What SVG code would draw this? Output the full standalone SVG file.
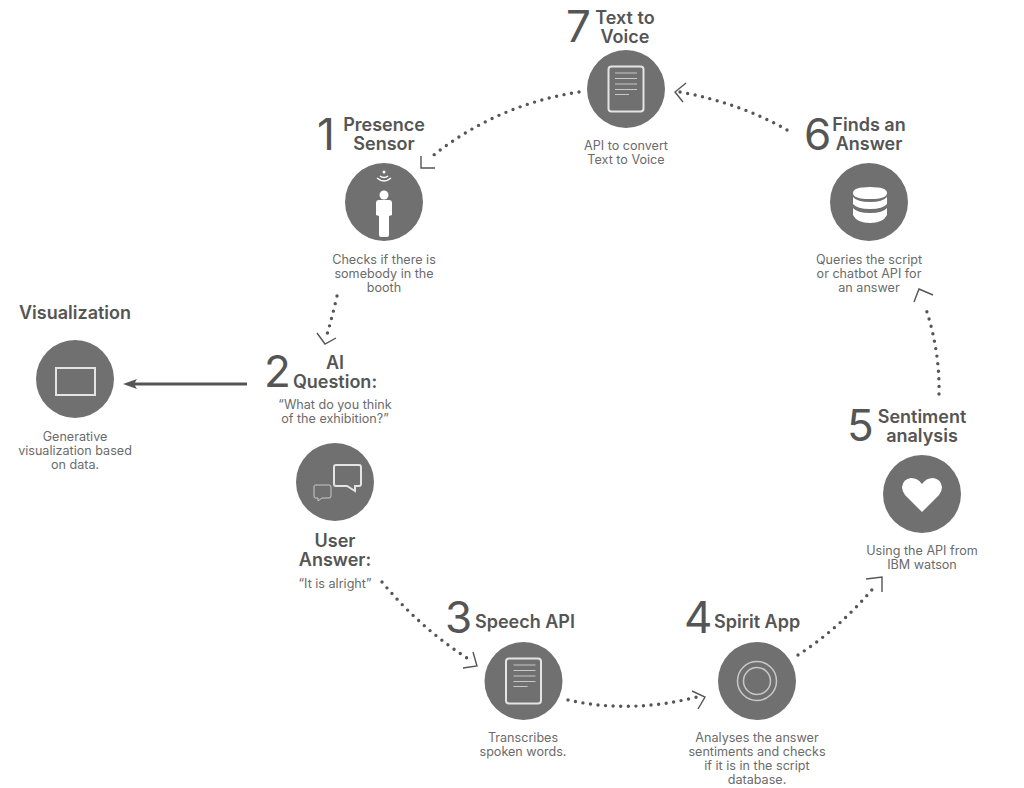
<svg xmlns="http://www.w3.org/2000/svg" width="1024" height="788" viewBox="0 0 1024 788">
<style>
text{font-family:"Inter","Noto Sans","Liberation Sans",sans-serif;text-anchor:middle}
.t{font-size:18px;font-weight:600;fill:#555}
.b{font-size:12.6px;fill:#6b6b6b}
.n{font-size:44px;font-weight:400;fill:#555;text-anchor:start}
.c{fill:#707070}
.i{fill:none;stroke:#e4e4e4;stroke-width:2}
.l{fill:none;stroke:#c8c8c8;stroke-width:1}
.d{fill:none;stroke:#555;stroke-width:3.4;stroke-linecap:round;stroke-dasharray:0 7.6}
.a{fill:none;stroke:#555;stroke-width:1.4}
</style>
<rect width="1024" height="788" fill="#fff"/>
<g id="connectors">
<path class="d" d="M579 92Q495 105 430 158"/><path class="a" d="M421 156V168H435"/>
<path class="d" d="M787 130Q740 103 680 92"/><path class="a" d="M686 83L675 92L683 102"/>
<path class="d" d="M337 296Q332 318 326 338"/><path class="a" d="M317 333L325 344L336 338"/>
<path class="d" d="M382 582Q420 628 470 660"/><path class="a" d="M473 652L477 666L463 668"/>
<path class="d" d="M568 700Q630 714 697 697"/><path class="a" d="M692 691L705 697L698 709"/>
<path class="d" d="M798 655Q840 628 876 585"/><path class="a" d="M866 579L882 577V592"/>
<path class="d" d="M939 394Q940 350 925 306"/><path class="a" d="M914 302L919 289L933 295"/>
<path d="M247 384H132" fill="none" stroke="#555" stroke-width="3"/><path d="M123 384L137 379L134 384L137 389Z" fill="#555"/>
</g>
<g id="node-7">
<circle class="c" cx="626" cy="89" r="39"/>
<rect class="i" x="608.500" y="66.500" width="35" height="45" rx="3"/>
<path class="l" d="M615 73H637M615 78.500H637M615 84H637M615 89.500H637M615 94.500H629"/>
<text class="n" x="566" y="42">7</text>
<text class="t" x="625" y="24">Text to</text><text class="t" x="625" y="43">Voice</text>
<text class="b" x="626" y="150">API to convert</text><text class="b" x="626" y="164">Text to Voice</text>
</g>
<g id="node-1">
<circle class="c" cx="384" cy="202" r="39"/>
<circle cx="384" cy="195" r="4.500" fill="#fff"/>
<path d="M376 203Q376 200 379 200H389Q392 200 392 203V215L389 216V235Q389 237 387 237H381Q379 237 379 235V216L376 215Z" fill="#fff"/>
<circle cx="384" cy="172" r="1.500" fill="#fff"/>
<path d="M380 176Q384 179 388 176M377 178Q384 184 391 178" fill="none" stroke="#fff" stroke-width="1.500"/>
<text class="n" x="317" y="150">1</text>
<text class="t" x="384" y="131">Presence</text><text class="t" x="384" y="150">Sensor</text>
<text class="b" x="384" y="264">Checks if there is</text><text class="b" x="384" y="278">somebody in the</text><text class="b" x="384" y="292">booth</text>
</g>
<g id="node-6">
<circle class="c" cx="869" cy="202" r="39"/>
<path d="M853 193Q853 187 870 187Q887 187 887 193Q887 199 870 199Q853 199 853 193ZM853 197Q857 202 870 202Q883 202 887 197V204Q883 209 870 209Q857 209 853 204ZM853 208Q857 213 870 213Q883 213 887 208V215Q883 223 870 223Q857 223 853 215Z" fill="#fff"/>
<text class="n" x="804" y="150">6</text>
<text class="t" x="869" y="131">Finds an</text><text class="t" x="869" y="150">Answer</text>
<text class="b" x="869" y="264">Queries the script</text><text class="b" x="869" y="278">or chatbot API for</text><text class="b" x="869" y="292">an answer</text>
</g>
<g id="node-visualization">
<circle class="c" cx="75" cy="379" r="39"/>
<rect class="i" x="56" y="368" width="39" height="27"/>
<text class="t" x="75" y="319">Visualization</text>
<text class="b" x="75" y="441">Generative</text><text class="b" x="75" y="455">visualization based</text><text class="b" x="75" y="469">on data.</text>
</g>
<g id="node-2">
<circle class="c" cx="335" cy="482" r="39"/>
<path class="i" d="M336 465H359Q361 465 361 467V484Q361 486 359 486H355L355 491L347 486H336Q334 486 334 484V467Q334 465 336 465Z" stroke-width="1.500"/>
<path class="l" d="M315 485H329Q331 485 331 487V496Q331 498 329 498H322L318 501V498H315Q314 498 314 496V487Q314 485 315 485Z"/>
<text class="n" x="264" y="387">2</text>
<text class="t" x="335" y="369">AI</text><text class="t" x="335" y="388">Question:</text>
<text class="b" x="335" y="409">“What do you think</text><text class="b" x="335" y="423">of the exhibition?”</text>
<text class="t" x="335" y="547">User</text><text class="t" x="335" y="566">Answer:</text>
<text class="b" x="335" y="588">“It is alright”</text>
</g>
<g id="node-3">
<circle class="c" cx="523.500" cy="681" r="39"/>
<rect class="i" x="506" y="658.500" width="35" height="45" rx="3"/>
<path class="l" d="M513.500 665H535.500M513.500 670.500H535.500M513.500 676H535.500M513.500 681.500H535.500M513.500 686.500H527.500"/>
<text class="n" x="445" y="633">3</text>
<text class="t" x="475" y="628" style="text-anchor:start">Speech API</text>
<text class="b" x="523" y="742">Transcribes</text><text class="b" x="523" y="756">spoken words.</text>
</g>
<g id="node-4">
<circle class="c" cx="757" cy="681" r="39"/>
<circle cx="757" cy="681" r="19.500" fill="none" stroke="#c8c8c8" stroke-width="1.500"/>
<circle cx="757" cy="681" r="13.500" fill="none" stroke="#c8c8c8" stroke-width="1.500"/>
<text class="n" x="684" y="633">4</text>
<text class="t" x="714" y="628" style="text-anchor:start">Spirit App</text>
<text class="b" x="757" y="742">Analyses the answer</text><text class="b" x="757" y="756">sentiments and checks</text><text class="b" x="757" y="770">if it is in the script</text><text class="b" x="757" y="784">database.</text>
</g>
<g id="node-5">
<circle class="c" cx="922" cy="494" r="39"/>
<path d="M922 512L905 495Q902 491 902 487Q903 479 911 478Q918 478 922 484Q926 478 933 478Q941 479 942 487Q942 491 939 495Z" fill="#fff"/>
<text class="n" x="847" y="441">5</text>
<text class="t" x="922" y="423">Sentiment</text><text class="t" x="922" y="442">analysis</text>
<text class="b" x="922" y="555">Using the API from</text><text class="b" x="922" y="569">IBM watson</text>
</g>
</svg>
